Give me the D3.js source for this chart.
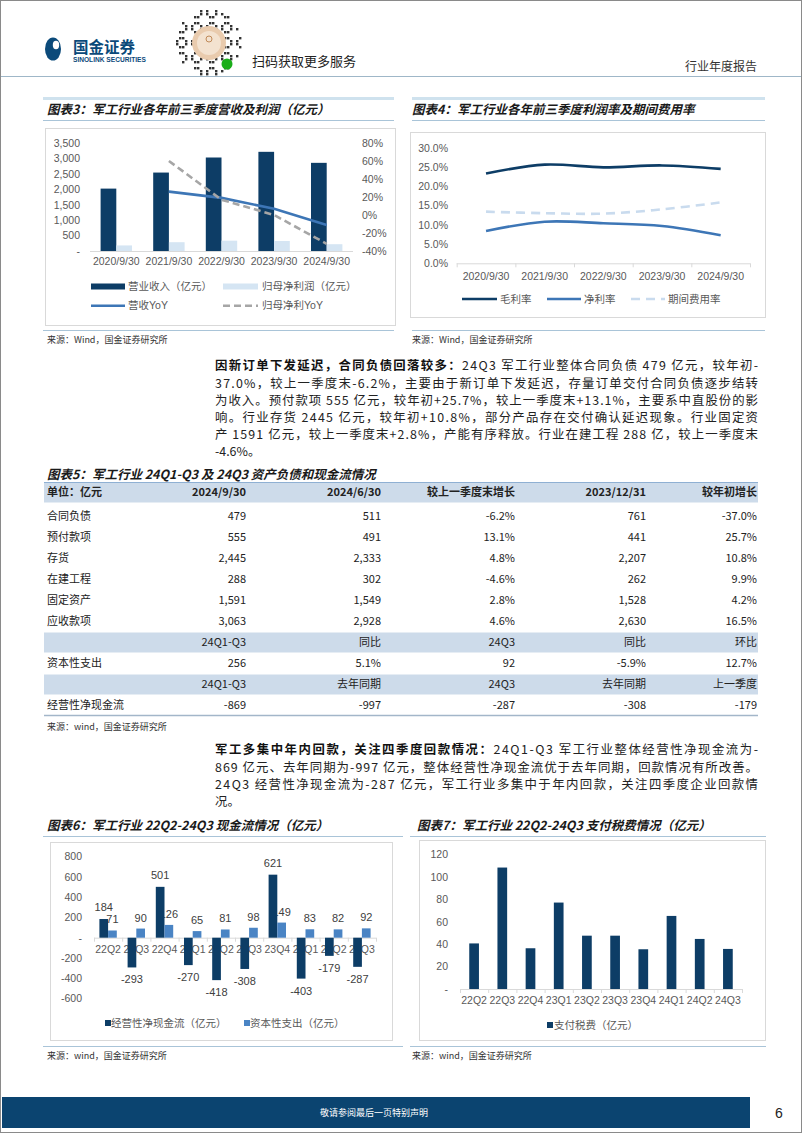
<!DOCTYPE html>
<html><head><meta charset="utf-8">
<script src="https://cdn.jsdelivr.net/npm/d3@7"></script>
<style>
body{margin:0;background:#fff;}
svg{display:block;}
.ttl{font-family:"Noto Sans CJK SC";font-weight:700;font-style:italic;font-size:12.5px;fill:#1a1a1a}
.src{font-family:"Noto Sans CJK SC";font-size:9px;fill:#333}
.ax text,.lg{font-family:"Liberation Sans","Noto Sans CJK SC";font-size:10.5px;fill:#595959}
.dl{font-family:"Liberation Sans";font-size:11px;fill:#404040}
.body{font-family:"Noto Sans CJK SC";font-size:12.4px;fill:#222}
.tbl{font-family:"Noto Sans CJK SC";font-size:11px;fill:#222}
</style>
</head><body>
<svg id="page" width="802" height="1133"></svg>
<script>
// ---------------- DATA ----------------
const years = ["2020/9/30","2021/9/30","2022/9/30","2023/9/30","2024/9/30"];
const revenue = [2022, 2542, 3030, 3214, 2857];
const netProfit = [180, 285, 335, 325, 220];
const revenueYoY = [null, 26, 19, 7, -11];
const profitYoY = [null, 60, 17, 0, -32];
const chart3LeftTicks = [0, 500, 1000, 1500, 2000, 2500, 3000, 3500];
const chart3RightTicks = [-40, -20, 0, 20, 40, 60, 80];

const grossMargin = [23.3, 25.6, 24.9, 25.4, 24.5];
const netMargin = [8.4, 10.8, 10.4, 9.7, 7.3];
const expenseRatio = [13.4, 13.0, 12.9, 14.0, 15.8];
const chart4Ticks = [0, 5, 10, 15, 20, 25, 30];

const quarters = ["22Q2","22Q3","22Q4","23Q1","23Q2","23Q3","23Q4","24Q1","24Q2","24Q3"];
const opCashFlow = [184, -293, 501, -270, -418, -308, 621, -403, -179, -287];
const capex = [71, 90, 126, 65, 81, 98, 149, 83, 82, 92];
const chart6Ticks = [-600, -400, -200, 0, 200, 400, 600, 800];

const taxPaid = [40.6, 108.2, 36.3, 77, 47.5, 47.5, 35.4, 65.1, 44.6, 35.7];
const chart7Ticks = [0, 20, 40, 60, 80, 100, 120];

const tableHeader = ["单位：亿元","2024/9/30","2024/6/30","较上一季度末增长","2023/12/31","较年初增长"];
const tableRows = [
  ["合同负债","479","511","-6.2%","761","-37.0%"],
  ["预付款项","555","491","13.1%","441","25.7%"],
  ["存货","2,445","2,333","4.8%","2,207","10.8%"],
  ["在建工程","288","302","-4.6%","262","9.9%"],
  ["固定资产","1,591","1,549","2.8%","1,528","4.2%"],
  ["应收款项","3,063","2,928","4.6%","2,630","16.5%"]
];
const capexHeader = ["","24Q1-Q3","同比","24Q3","同比","环比"];
const capexRow = ["资本性支出","256","5.1%","92","-5.9%","12.7%"];
const cashHeader = ["","24Q1-Q3","去年同期","24Q3","去年同期","上一季度"];
const cashRow = ["经营性净现金流","-869","-997","-287","-308","-179"];

const para1 = [
  [["因新订单下发延迟，合同负债回落较多：",true],["24Q3 军工行业整体合同负债 479 亿元，较年初-",false]],
  [["37.0%，较上一季度末-6.2%，主要由于新订单下发延迟，存量订单交付合同负债逐步结转",false]],
  [["为收入。预付款项 555 亿元，较年初+25.7%，较上一季度末+13.1%，主要系中直股份的影",false]],
  [["响。行业存货 2445 亿元，较年初+10.8%，部分产品存在交付确认延迟现象。行业固定资",false]],
  [["产 1591 亿元，较上一季度末+2.8%，产能有序释放。行业在建工程 288 亿，较上一季度末",false]],
  [["-4.6%。",false]]
];
const para2 = [
  [["军工多集中年内回款，关注四季度回款情况：",true],["24Q1-Q3 军工行业整体经营性净现金流为-",false]],
  [["869 亿元、去年同期为-997 亿元，整体经营性净现金流优于去年同期，回款情况有所改善。",false]],
  [["24Q3 经营性净现金流为-287 亿元，军工行业多集中于年内回款，关注四季度企业回款情",false]],
  [["况。",false]]
];

// ---------------- COLORS ----------------
const NAVY = "#0D3D66", MID = "#3D76B6", LIGHT = "#D5E5F3", GREY = "#A6A6A6", BLUE6 = "#4A84C4";
const page = d3.select("#page");

// page frame
page.append("rect").attr("x",0.5).attr("y",0.5).attr("width",801).attr("height",1132)
  .attr("fill","#fff").attr("stroke","#8a8a8a");

// ---------------- HEADER ----------------
page.append("ellipse").attr("cx",53).attr("cy",49).attr("rx",8).attr("ry",11.5).attr("fill","#0B4A7A");
page.append("ellipse").attr("cx",56).attr("cy",45).attr("rx",3.2).attr("ry",4.2).attr("fill","#fff");
page.append("text").attr("x",73).attr("y",53).attr("font-family","Noto Sans CJK SC").attr("font-weight",700)
  .attr("font-size",15.5).attr("fill","#0B4A7A").text("国金证券");
page.append("text").attr("x",73).attr("y",62).attr("font-family","Liberation Sans").attr("font-weight",700)
  .attr("font-size",6.6).attr("fill","#0B4A7A").text("SINOLINK SECURITIES");
// decorative QR-like code
const qr = page.append("g");
for (let i = 0; i < 22; i++) for (let j = 0; j < 22; j++) {
  const dx = i - 10.5, dy = j - 10.5;
  if (dx*dx + dy*dy > 118) continue;
  if (((i*7 + j*11 + i*j) % 5) < 2) qr.append("rect").attr("x",176 + i*3).attr("y",10 + j*3)
    .attr("width",2.4).attr("height",2.4).attr("fill","#333");
}
page.append("circle").attr("cx",209).attr("cy",43).attr("r",17).attr("fill","#E9CBAE");
page.append("circle").attr("cx",209).attr("cy",43).attr("r",12).attr("fill","#F3E2D0");
page.append("circle").attr("cx",209).attr("cy",39).attr("r",3).attr("fill","none").attr("stroke","#C08A5A");
page.append("circle").attr("cx",227).attr("cy",64).attr("r",5.5).attr("fill","#1AAD19");
page.append("text").attr("x",252).attr("y",66).attr("font-family","Noto Sans CJK SC")
  .attr("font-size",13).attr("fill","#222").text("扫码获取更多服务");
page.append("text").attr("x",757).attr("y",71).attr("text-anchor","end").attr("font-family","Noto Sans CJK SC")
  .attr("font-size",12).attr("fill","#333").text("行业年度报告");
page.append("line").attr("x1",1).attr("x2",801).attr("y1",76.5).attr("y2",76.5).attr("stroke","#9FB7C8").attr("stroke-width",1);

// ---------------- helpers ----------------
function hline(x1,x2,y,color,w){ page.append("line").attr("x1",x1).attr("x2",x2).attr("y1",y).attr("y2",y).attr("stroke",color).attr("stroke-width",w); }
function title(x,y,t){ page.append("text").attr("class","ttl").attr("x",x).attr("y",y).attr("dy","0.36em").text(t); }
function source(x,y,t){ page.append("text").attr("class","src").attr("x",x).attr("y",y).attr("dy","0.36em").text(t); }
function box(x1,y1,x2,y2){ page.append("rect").attr("x",x1+0.5).attr("y",y1+0.5).attr("width",x2-x1).attr("height",y2-y1).attr("fill","#fff").attr("stroke","#D9D9D9"); }
function styleAxis(g){ g.select(".domain").remove(); g.selectAll("line").remove(); g.selectAll("text").attr("fill","#595959"); }
function baseLine(g, x, y, withTicks){
  const r = x.range();
  g.append("line").attr("x1",r[0]).attr("x2",r[1]).attr("y1",y+0.5).attr("y2",y+0.5).attr("stroke","#D9D9D9");
  if (withTicks) {
    const edges = x.domain().map(d => x(d)).concat([r[1]]);
    edges.forEach(e => g.append("line").attr("x1",e+0.5).attr("x2",e+0.5).attr("y1",y).attr("y2",y+4).attr("stroke","#D9D9D9"));
  }
}
function paragraph(lines, x, y0, lh, width){
  lines.forEach((segs, i) => {
    const t = page.append("text").attr("class","body").attr("x",x).attr("y",y0 + i*lh).attr("dy","0.36em");
    segs.forEach(s => t.append("tspan").attr("font-weight", s[1] ? 700 : 400).attr("fill", s[1] ? "#111" : "#222").text(s[0]));
    if (i < lines.length - 1) t.attr("textLength", width).attr("lengthAdjust","spacing");
  });
}

// ---------------- CHART 3 ----------------
hline(43,394,98.5,"#CFE2EE",3);
title(47,109,"图表3：军工行业各年前三季度营收及利润（亿元）");
hline(43,394,120.5,"#A9C4D8",1.2);
box(45,128,395,325);
{
  const g = page.append("g");
  const x = d3.scaleBand().domain(years).range([90,353]);
  const yL = d3.scaleLinear().domain([0,3500]).range([251,143]);
  const yR = d3.scaleLinear().domain([-40,80]).range([251,143]);
  baseLine(g, x, 251, false);
  const bw = 15.7;
  g.selectAll(".rev").data(years).enter().append("rect")
    .attr("x", d => x(d) + x.bandwidth()/2 - bw).attr("width", bw)
    .attr("y", (d,i) => yL(revenue[i])).attr("height", (d,i) => yL(0) - yL(revenue[i])).attr("fill", NAVY);
  g.selectAll(".np").data(years).enter().append("rect")
    .attr("x", d => x(d) + x.bandwidth()/2).attr("width", bw)
    .attr("y", (d,i) => yL(netProfit[i])).attr("height", (d,i) => yL(0) - yL(netProfit[i])).attr("fill", LIGHT);
  const cx = d => x(d) + x.bandwidth()/2;
  const l1 = d3.line().defined(d => d[1] !== null).x(d => cx(d[0])).y(d => yR(d[1]));
  g.append("path").attr("d", l1(years.map((d,i) => [d, revenueYoY[i]]))).attr("fill","none").attr("stroke",MID).attr("stroke-width",2.6);
  g.append("path").attr("d", l1(years.map((d,i) => [d, profitYoY[i]]))).attr("fill","none").attr("stroke",GREY).attr("stroke-width",2.6).attr("stroke-dasharray","7,4");
  const al = g.append("g").attr("class","ax").attr("transform","translate(83,0)")
    .call(d3.axisLeft(yL).tickValues(chart3LeftTicks).tickSize(0).tickPadding(3).tickFormat(d => d === 0 ? "-" : d3.format(",")(d)));
  styleAxis(al);
  const ar = g.append("g").attr("class","ax").attr("transform","translate(359,0)")
    .call(d3.axisRight(yR).tickValues(chart3RightTicks).tickSize(0).tickPadding(3).tickFormat(d => d + "%"));
  styleAxis(ar);
  const ab = g.append("g").attr("class","ax").attr("transform","translate(0,251)")
    .call(d3.axisBottom(x).tickSize(0).tickPadding(7));
  styleAxis(ab);
  // legend
  g.append("rect").attr("x",91).attr("y",283.5).attr("width",34).attr("height",6).attr("fill",NAVY);
  g.append("text").attr("class","lg").attr("x",128).attr("y",286.7).attr("dy","0.36em").text("营业收入（亿元）");
  g.append("rect").attr("x",223).attr("y",283.5).attr("width",35).attr("height",6).attr("fill",LIGHT);
  g.append("text").attr("class","lg").attr("x",262).attr("y",286.7).attr("dy","0.36em").text("归母净利润（亿元）");
  g.append("line").attr("x1",91).attr("x2",125).attr("y1",305.7).attr("y2",305.7).attr("stroke",MID).attr("stroke-width",2.6);
  g.append("text").attr("class","lg").attr("x",128).attr("y",305.7).attr("dy","0.36em").text("营收YoY");
  g.append("line").attr("x1",223).attr("x2",258).attr("y1",305.7).attr("y2",305.7).attr("stroke",GREY).attr("stroke-width",2.6).attr("stroke-dasharray","7,4");
  g.append("text").attr("class","lg").attr("x",262).attr("y",305.7).attr("dy","0.36em").text("归母净利YoY");
}
hline(43,394,330.5,"#A9C4D8",1);
source(47,340,"来源：Wind，国金证券研究所");

// ---------------- CHART 4 ----------------
hline(412,765,98.5,"#CFE2EE",3);
title(412,109,"图表4：军工行业各年前三季度利润率及期间费用率");
hline(412,765,120.5,"#A9C4D8",1.2);
box(410,132,765,317);
{
  const g = page.append("g");
  const x = d3.scaleBand().domain(years).range([456.7,750]);
  const y = d3.scaleLinear().domain([0,30]).range([263.3,147.7]);
  baseLine(g, x, 263.3, true);
  const cx = d => x(d) + x.bandwidth()/2;
  const line = d3.line().x(d => cx(d[0])).y(d => y(d[1])).curve(d3.curveCatmullRom.alpha(0.5));
  g.append("path").attr("d", line(years.map((d,i) => [d, expenseRatio[i]]))).attr("fill","none").attr("stroke","#C9DBEE").attr("stroke-width",2.6).attr("stroke-dasharray","9,6");
  g.append("path").attr("d", line(years.map((d,i) => [d, netMargin[i]]))).attr("fill","none").attr("stroke",MID).attr("stroke-width",2.6);
  g.append("path").attr("d", line(years.map((d,i) => [d, grossMargin[i]]))).attr("fill","none").attr("stroke",NAVY).attr("stroke-width",2.6);
  const al = g.append("g").attr("class","ax").attr("transform","translate(451,0)")
    .call(d3.axisLeft(y).tickValues(chart4Ticks).tickSize(0).tickPadding(3).tickFormat(d => d.toFixed(1) + "%"));
  styleAxis(al);
  const ab = g.append("g").attr("class","ax").attr("transform","translate(0,263.3)")
    .call(d3.axisBottom(x).tickSize(0).tickPadding(9));
  styleAxis(ab);
  const lg = [[462,497,500,NAVY,null,"毛利率"],[547,581,584,MID,null,"净利率"],[631,665,668,"#C9DBEE","9,6","期间费用率"]];
  lg.forEach(l => {
    g.append("line").attr("x1",l[0]).attr("x2",l[1]).attr("y1",299).attr("y2",299).attr("stroke",l[3]).attr("stroke-width",2.6).attr("stroke-dasharray",l[4]);
    g.append("text").attr("class","lg").attr("x",l[2]).attr("y",299).attr("dy","0.36em").text(l[5]);
  });
}
hline(412,765,330.5,"#A9C4D8",1);
source(412,340,"来源：Wind，国金证券研究所");

// ---------------- PARAGRAPH 1 ----------------
paragraph(para1, 215, 366, 17.2, 543);

// ---------------- TABLE 5 ----------------
title(47,474,"图表5：军工行业 24Q1-Q3 及 24Q3 资产负债和现金流情况");
{
  const colRight = [null, 246, 381, 515, 646, 757];
  const tx = 47;
  function band(y){ page.append("rect").attr("x",44).attr("y",y).attr("width",714).attr("height",20).attr("fill","#CDDBEA"); }
  function row(cells, y, bold){
    cells.forEach((c,i) => {
      const t = page.append("text").attr("class","tbl").attr("y",y).attr("dy","0.36em").text(c);
      if (i === 0) t.attr("x",tx); else t.attr("x",colRight[i]).attr("text-anchor","end");
      if (bold) t.attr("font-weight",700);
    });
  }
  band(482.5);
  hline(44,758,482.5,"#8FB0D3",1);
  row(tableHeader, 492.5, true);
  tableRows.forEach((r,i) => row(r, 516 + i*21.1, false));
  band(632.5);
  row(capexHeader, 642.5, false);
  row(capexRow, 663.5, false);
  band(674.5);
  row(cashHeader, 684.5, false);
  row(cashRow, 705.5, false);
  hline(44,758,715.5,"#A3B6C9",1.6);
}
source(47,727,"来源：wind，国金证券研究所");

// ---------------- PARAGRAPH 2 ----------------
paragraph(para2, 215, 750, 17.3, 543);

// ---------------- CHART 6 ----------------
title(47,825,"图表6：军工行业 22Q2-24Q3 现金流情况（亿元）");
hline(43,403,836.5,"#A9C4D8",1.2);
box(50,842,392,1040);
{
  const g = page.append("g");
  const x = d3.scaleBand().domain(quarters).range([94,376]);
  const y = d3.scaleLinear().domain([-600,800]).range([998.6,856.5]);
  const al = g.append("g").attr("class","ax").attr("transform","translate(85,0)")
    .call(d3.axisLeft(y).tickValues(chart6Ticks).tickSize(0).tickPadding(3).tickFormat(d => d === 0 ? "-" : d));
  styleAxis(al);
  const ab = g.append("g").attr("class","ax").attr("transform","translate(0," + y(0) + ")")
    .call(d3.axisBottom(x).tickSize(0).tickPadding(7.5));
  styleAxis(ab);
  baseLine(g, x, y(0), true);
  const bw = 8.7;
  const cx = d => x(d) + x.bandwidth()/2;
  // capex labels (partly covered by bars)
  g.selectAll(".cl").data(quarters).enter().append("text").attr("class","dl").attr("text-anchor","middle")
    .attr("x", d => cx(d) + bw/2).attr("y", (d,i) => y(capex[i]) - 11).attr("dy","0.36em").text((d,i) => capex[i]);
  g.selectAll(".ob").data(quarters).enter().append("rect")
    .attr("x", d => cx(d) - bw).attr("width", bw)
    .attr("y", (d,i) => y(Math.max(0,opCashFlow[i]))).attr("height", (d,i) => Math.abs(y(opCashFlow[i]) - y(0))).attr("fill", NAVY);
  g.selectAll(".cb").data(quarters).enter().append("rect")
    .attr("x", d => cx(d)).attr("width", bw)
    .attr("y", (d,i) => y(capex[i])).attr("height", (d,i) => y(0) - y(capex[i])).attr("fill", BLUE6);
  g.selectAll(".ol").data(quarters).enter().append("text").attr("class","dl").attr("text-anchor","middle")
    .attr("x", d => cx(d) - bw/2)
    .attr("y", (d,i) => opCashFlow[i] >= 0 ? y(opCashFlow[i]) - 12 : y(opCashFlow[i]) + 12)
    .attr("dy","0.36em").text((d,i) => opCashFlow[i]);
  g.append("rect").attr("x",105).attr("y",1020).attr("width",6).attr("height",6).attr("fill",NAVY);
  g.append("text").attr("class","lg").attr("x",111).attr("y",1023.3).attr("dy","0.36em").text("经营性净现金流（亿元）");
  g.append("rect").attr("x",244).attr("y",1020).attr("width",6).attr("height",6).attr("fill",BLUE6);
  g.append("text").attr("class","lg").attr("x",250).attr("y",1023.3).attr("dy","0.36em").text("资本性支出（亿元）");
}
hline(43,403,1046.5,"#A9C4D8",1);
source(47,1056,"来源：wind，国金证券研究所");

// ---------------- CHART 7 ----------------
title(417,825,"图表7：军工行业 22Q2-24Q3 支付税费情况（亿元）");
hline(410,766,836.5,"#A9C4D8",1.2);
box(419,840,765,1040);
{
  const g = page.append("g");
  const x = d3.scaleBand().domain(quarters).range([460,742]);
  const y = d3.scaleLinear().domain([0,120]).range([989,854.3]);
  baseLine(g, x, 989, true);
  const bw = 9.7;
  g.selectAll(".tb").data(quarters).enter().append("rect")
    .attr("x", d => x(d) + x.bandwidth()/2 - bw/2).attr("width", bw)
    .attr("y", (d,i) => y(taxPaid[i])).attr("height", (d,i) => y(0) - y(taxPaid[i])).attr("fill", NAVY);
  const al = g.append("g").attr("class","ax").attr("transform","translate(451,0)")
    .call(d3.axisLeft(y).tickValues(chart7Ticks).tickSize(0).tickPadding(3).tickFormat(d => d === 0 ? "-" : d));
  styleAxis(al);
  const ab = g.append("g").attr("class","ax").attr("transform","translate(0,989)")
    .call(d3.axisBottom(x).tickSize(0).tickPadding(8));
  styleAxis(ab);
  g.append("rect").attr("x",547).attr("y",1022).attr("width",6).attr("height",6).attr("fill",NAVY);
  g.append("text").attr("class","lg").attr("x",554).attr("y",1025).attr("dy","0.36em").text("支付税费（亿元）");
}
hline(410,766,1046.5,"#A9C4D8",1);
source(412,1056,"来源：wind，国金证券研究所");

// ---------------- FOOTER ----------------
page.append("rect").attr("x",2).attr("y",1097).attr("width",748).attr("height",31).attr("fill","#0B4470");
page.append("text").attr("x",374).attr("y",1112.5).attr("dy","0.36em").attr("text-anchor","middle")
  .attr("font-family","Noto Sans CJK SC").attr("font-size",9).attr("fill","#fff").text("敬请参阅最后一页特别声明");
page.append("text").attr("x",779).attr("y",1112.5).attr("dy","0.36em").attr("text-anchor","middle")
  .attr("font-family","Liberation Sans").attr("font-size",14).attr("fill","#222").text("6");
</script>
</body></html>
